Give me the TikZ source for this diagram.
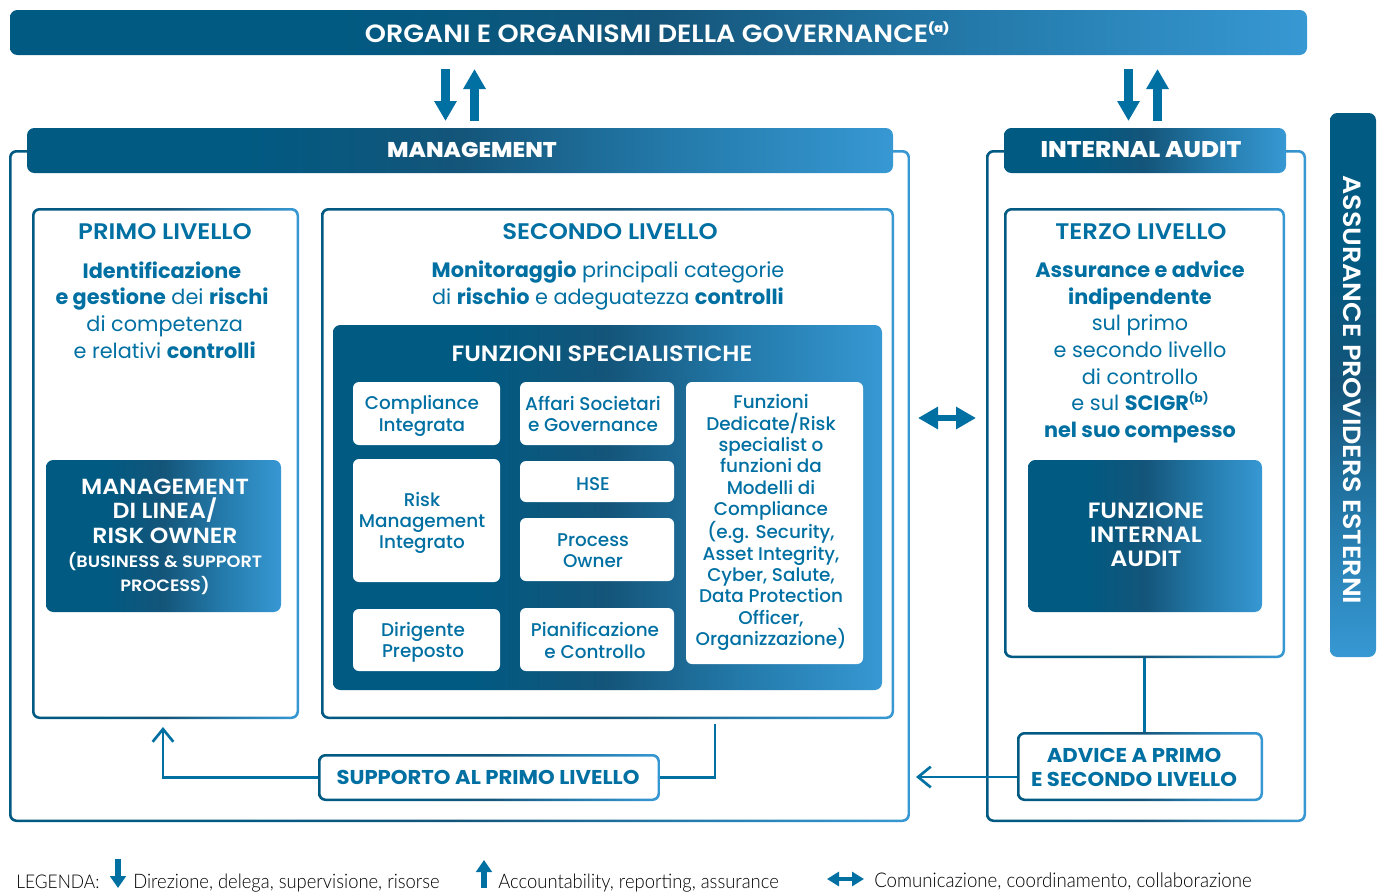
\documentclass[tikz,border=0pt]{standalone}
\usepackage{fontspec}
\usetikzlibrary{arrows.meta}
\setmainfont{Poppins}
\newfontfamily\legfont[FakeStretch=0.92]{Lato Light}
\newfontfamily\semif[FakeStretch=1.08]{Poppins SemiBold}
\newfontfamily\boldf[FakeStretch=1.06]{Poppins Bold}
\newfontfamily\xboldf[FakeStretch=1.08]{Poppins ExtraBold}
\newfontfamily\medf{Poppins Medium}
\definecolor{bluetxt}{HTML}{0070A3}
\definecolor{bA}{HTML}{005A82}
\definecolor{bB}{HTML}{14557A}
\definecolor{bC}{HTML}{2379A9}
\definecolor{bD}{HTML}{3798D3}
\pgfdeclarehorizontalshading{brandh}{100bp}{color(0bp)=(bA); color(25bp)=(bA); color(37bp)=(bA); color(50bp)=(bB); color(62bp)=(bC); color(75bp)=(bD); color(100bp)=(bD)}
\tikzset{
  shadedbox/.style={shading=brandh,rounded corners=#1,inner sep=0pt,outer sep=0pt,rectangle},
  shadedbox/.default=5.5pt,
  whitecell/.style={fill=white,rounded corners=4.5pt,inner sep=0pt,outer sep=0pt,rectangle},
  bluetext/.style={text=bluetxt,align=center,inner sep=0pt},
  whitetext/.style={text=white,align=center,inner sep=0pt},
  blockdown/.style={draw=bluetxt,line width=6.7pt,-{Triangle[length=15pt,width=16pt]}},
  blocktwo/.style={draw=bluetxt,line width=5pt,{Triangle[length=15pt,width=16pt]}-{Triangle[length=15pt,width=16pt]}},
  legarrow/.style={draw=bluetxt,line width=5.2pt,-{Triangle[length=9pt,width=11.7pt]}},
  legtwo/.style={draw=bluetxt,line width=3pt,{Triangle[length=9pt,width=10.5pt]}-{Triangle[length=9pt,width=10.5pt]}},
  conn/.style={draw=bluetxt,line width=2pt},
  barb/.style={-{Straight Barb[length=9.5pt,width=15.5pt,line width=2pt]}},
  legtext/.style={anchor=base west,inner sep=0pt,font=\legfont\fontsize{15pt}{16pt}\selectfont},
}
\newcommand{\rbox}[5]{%
  \node[shadedbox,shade,minimum width={(#4-#2)*0.75pt},minimum height={(#5-#3)*0.75pt}] (#1) at ({(#2+#4)/2},{(#3+#5)/2}) {};}
\newcommand{\gbox}[5]{% gradient-edged frame
  \node[shadedbox,shade,minimum width={(#4-#2)*0.75pt},minimum height={(#5-#3)*0.75pt}] (#1) at ({(#2+#4)/2},{(#3+#5)/2}) {};
  \node[fill=white,rounded corners=3.8pt,inner sep=0pt,minimum width={(#4-#2-5)*0.75pt},minimum height={(#5-#3-5)*0.75pt}] (#1in) at ({(#2+#4)/2},{(#3+#5)/2}) {};}
\newcommand{\wcell}[5]{%
  \node[whitecell,minimum width={(#4-#2)*0.75pt},minimum height={(#5-#3)*0.75pt}] (#1) at ({(#2+#4)/2},{(#3+#5)/2}) {};}
\newcommand{\supr}[1]{\raisebox{0.42em}{\fontsize{9pt}{10pt}\selectfont\bfseries #1}}
\newcommand{\body}{\fontsize{15.6pt}{20pt}\selectfont}
\newcommand{\head}{\fontsize{16.9pt}{20pt}\selectfont\semif}
\newcommand{\cell}{\fontsize{13.8pt}{16pt}\selectfont\medf}
\begin{document}
\begin{tikzpicture}[x=0.75pt,y=-0.75pt]
\useasboundingbox (0,0) rectangle (1379,893);
% outer frames
\gbox{mgmtframe}{9}{150}{910}{822}
\gbox{auditframe}{986}{150}{1306}{822}
% bars
\rbox{topbar}{10}{10}{1307}{55}
\rbox{mgmthead}{27}{128}{893}{173}
\rbox{audithead}{1004}{128}{1286}{173}
\node[shadedbox,shade,shading angle=-90,minimum width={46*0.75pt},minimum height={544*0.75pt}] (side) at (1353,385) {};
\node[whitetext,font=\fontsize{18.7pt}{20pt}\selectfont\semif] (toplabel) at (657,32) {ORGANI E ORGANISMI DELLA GOVERNANCE\supr{(a)}};
\node[whitetext,font=\fontsize{16pt}{20pt}\selectfont\xboldf] (mgmtlabel) at (472,150) {MANAGEMENT};
\node[whitetext,font=\fontsize{17pt}{20pt}\selectfont\xboldf] (auditlabel) at (1141,150) {INTERNAL AUDIT};
\node[whitetext,rotate=-90,font=\fontsize{18.7pt}{20pt}\selectfont\semif] (sidelabel) at (1352,390) {ASSURANCE PROVIDERS ESTERNI};
% level boxes
\gbox{primo}{32}{208}{299}{719}
\gbox{secondo}{321}{208}{894}{719}
\gbox{terzo}{1004}{208}{1285}{658}
% primo
\node[bluetext,font=\head] (primot) at (165,231.5) {PRIMO LIVELLO};
\node[bluetext,font=\body] (primob) at (162,310) {\textbf{Identificazione}\\\textbf{e gestione} dei \textbf{rischi}\\\hspace*{4pt}di competenza\\\hspace*{4pt}e relativi \textbf{controlli}};
\rbox{linea}{46}{460}{281}{612}
\node[whitetext,font=\fontsize{16.4pt}{18.3pt}\selectfont\semif] (lineat) at (165,511) {MANAGEMENT\\DI LINEA/\\RISK OWNER};
\node[whitetext,font=\fontsize{12.3pt}{18pt}\selectfont\semif] (lineab) at (165,574) {(BUSINESS \& SUPPORT\\PROCESS)};
% secondo
\node[bluetext,font=\head] (secondot) at (610,231.5) {SECONDO LIVELLO};
\node[bluetext,font=\body] (secondob) at (608,285.5) {\textbf{Monitoraggio} principali categorie\\di \textbf{rischio} e adeguatezza \textbf{controlli}};
\rbox{panel}{333}{325}{882}{690}
\node[whitetext,font=\fontsize{16.6pt}{20pt}\selectfont\semif] (panelt) at (602,354) {FUNZIONI SPECIALISTICHE};
\wcell{c1}{353}{382}{500}{445}
\wcell{c2}{520}{382}{674}{445}
\wcell{c3}{686}{382}{863}{664}
\wcell{c4}{353}{459}{500}{582}
\wcell{c5}{520}{461}{674}{502}
\wcell{c6}{520}{518}{674}{581}
\wcell{c7}{353}{609}{500}{671}
\wcell{c8}{520}{608}{674}{671}
\node[bluetext,font=\cell] (c1t) at (422,416) {Compliance\\Integrata};
\node[bluetext,font=\cell] (c2t) at (593,414) {Affari Societari\\e Governance};
\node[bluetext,font=\cell] (c3t) at (771,522.5) {Funzioni\\Dedicate/Risk\\specialist o\\funzioni da\\Modelli di\\Compliance\\(e.g. Security,\\Asset Integrity,\\Cyber, Salute,\\Data Protection\\Officer,\\Organizzazione)};
\node[bluetext,font=\cell] (c4t) at (422,523) {Risk\\Management\\Integrato};
\node[bluetext,font=\cell] (c5t) at (593,484) {HSE};
\node[bluetext,font=\cell] (c6t) at (593,551) {Process\\Owner};
\node[bluetext,font=\cell] (c7t) at (423,642.5) {Dirigente\\Preposto};
\node[bluetext,font=\cell] (c8t) at (595,640.5) {Pianificazione\\e Controllo};
% terzo
\node[bluetext,font=\head] (terzot) at (1141,231.5) {TERZO LIVELLO};
\node[bluetext,font=\body] (terzob) at (1140,352) {\textbf{Assurance e advice}\\\textbf{indipendente}\\sul primo\\e secondo livello\\di controllo\\e sul \textbf{SCIGR}\supr{(b)}\\\textbf{nel suo compesso}};
\rbox{funz}{1028}{460}{1262}{612}
\node[whitetext,font=\fontsize{16.6pt}{18pt}\selectfont\semif] (funzt) at (1146,535) {FUNZIONE\\INTERNAL\\AUDIT};
% support boxes
\gbox{supporto}{318}{754}{660}{801}
\gbox{advice}{1017}{732}{1263}{801}
\node[bluetext,font=\fontsize{15pt}{18pt}\selectfont\boldf] (supportot) at (488,777) {SUPPORTO AL PRIMO LIVELLO};
\node[bluetext,font=\fontsize{15pt}{18pt}\selectfont\boldf] (advicet) at (1134,767) {ADVICE A PRIMO\\E SECONDO LIVELLO};
% coordinates
\coordinate (a1s) at (445.5,69); \coordinate (a1e) at (445.5,121);
\coordinate (a2s) at (474.5,121); \coordinate (a2e) at (474.5,69);
\coordinate (a3s) at (1128.5,69); \coordinate (a3e) at (1128.5,121);
\coordinate (a4s) at (1157.5,121); \coordinate (a4e) at (1157.5,69);
\coordinate (dl) at (918,418); \coordinate (dr) at (976,418);
\coordinate (supl) at (163,727); \coordinate (supr) at (715,724);
\coordinate (advl) at (916,777);
% block arrows
\draw[blockdown] (a1s) -- (a1e);
\draw[blockdown] (a2s) -- (a2e);
\draw[blockdown] (a3s) -- (a3e);
\draw[blockdown] (a4s) -- (a4e);
\draw[blocktwo] (dl) -- (dr);
% connectors
\draw[conn,barb] (supporto.west) -| (supl);
\draw[conn] (supporto.east) -| (supr);
\draw[conn,barb] (advl -| advice.west) -- (advl);
\draw[conn] (terzo.south) -- (terzo.south |- advice.north);
% legend
\node[legtext,font=\legfont\fontsize{14.2pt}{16pt}\selectfont] (leg0) at (16,888) {LEGENDA:};
\node[legtext] (leg1) at (133,888) {Direzione, delega, supervisione, risorse};
\node[legtext] (leg2) at (498,888) {Accountability, reporting, assurance};
\node[legtext,font=\legfont\fontsize{15.2pt}{16pt}\selectfont] (leg3) at (874,887) {Comunicazione, coordinamento, collaborazione};
\coordinate (l1s) at (118,859); \coordinate (l1e) at (118,888);
\coordinate (l2s) at (484,888); \coordinate (l2e) at (484,860);
\coordinate (l3s) at (827,879); \coordinate (l3e) at (864,879);
\draw[legarrow] (l1s) -- (l1e);
\draw[legarrow] (l2s) -- (l2e);
\draw[legtwo] (l3s) -- (l3e);
\end{tikzpicture}
\end{document}
